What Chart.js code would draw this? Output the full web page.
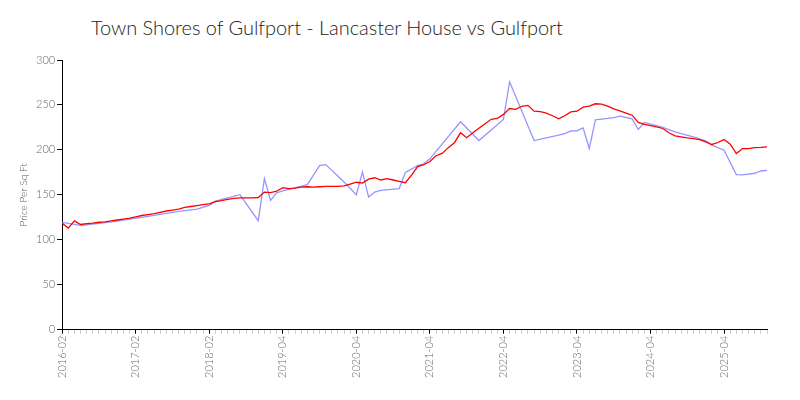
<!DOCTYPE html>
<html>
<head>
<meta charset="utf-8">
<script src="https://cdn.jsdelivr.net/npm/chart.js@4/dist/chart.umd.min.js"></script>
<style>
  html, body { margin: 0; padding: 0; background: #fff; }
  #wrap { position: relative; width: 800px; height: 400px; }
  #title { position: absolute; left: 91px; top: 15px; font-family: Lato, "Open Sans", sans-serif; font-weight: 300; font-size: 20px; color: #222; white-space: nowrap; letter-spacing: -0.05px; }
  canvas { position: absolute; left: 0; top: 0; }
</style>
</head>
<body>
<div id="wrap">
  <div id="title">Town Shores of Gulfport - Lancaster House vs Gulfport</div>
  <canvas id="c" width="800" height="400"></canvas>
</div>
<script>
const titleText = "Town Shores of Gulfport - Lancaster House vs Gulfport";
const yAxisTitle = "Price Per Sq Ft";

const months = [
  "2016-02","2016-03","2016-04","2016-05","2016-06","2016-07","2016-08","2016-09","2016-10","2016-11","2016-12","2017-01",
  "2017-02","2017-03","2017-04","2017-05","2017-06","2017-07","2017-08","2017-09","2017-10","2017-11","2017-12","2018-01",
  "2018-02","2018-03","2018-04","2018-05","2018-06","2018-07","2018-08","2018-11","2018-12","2019-01","2019-02","2019-03",
  "2019-04","2019-05","2019-06","2019-07","2019-08","2019-09","2019-10","2019-11","2019-12","2020-01","2020-02","2020-03",
  "2020-04","2020-05","2020-06","2020-07","2020-08","2020-09","2020-10","2020-11","2020-12","2021-01","2021-02","2021-03",
  "2021-04","2021-05","2021-06","2021-07","2021-08","2021-09","2021-10","2021-11","2021-12","2022-01","2022-02","2022-03",
  "2022-04","2022-05","2022-06","2022-07","2022-08","2022-09","2022-10","2022-11","2022-12","2023-01","2023-02","2023-03",
  "2023-04","2023-05","2023-06","2023-07","2023-08","2023-09","2023-10","2023-11","2023-12","2024-01","2024-02","2024-03",
  "2024-04","2024-05","2024-06","2024-07","2024-08","2024-09","2024-10","2024-11","2024-12","2025-01","2025-02","2025-03",
  "2025-04","2025-05","2025-06","2025-07","2025-08","2025-09","2025-10","2025-11"
];

// Lancaster House (red)
const lancaster = [
  118.5,113,121,117,118,118.5,119.5,120,121,122,123,124,
  125.5,127,128,129,130.5,132,133,134,136,137,138,139,
  140,142.5,143.5,145,146,146.5,146.5,146.5,147,153,152.5,154,
  158,157,157.5,158.5,159,158.5,159,159.5,159.5,159.5,160,162,
  164,163,167.5,169,166.5,168,166.5,165,163.5,172,181.5,183.5,
  187,193.5,196,202.5,208,219,213.5,219,224,229,234,235,
  239.5,246,245,248.5,249.5,243,242.5,241,238,234.5,238,242.3,
  243,247.5,248.7,251.3,251,248.7,245.7,243.4,241,238.6,230.5,228.3,
  227,225.6,223.8,219,215.6,214.5,213.4,212.5,211.5,208.9,206,208.2,
  211.5,206.3,195.9,201.5,201.5,202.6,202.8,203.3
];

// Gulfport (blue) - null where the reference line is a straight span
const gulfport = [
  119.3,null,null,116,116.7,null,null,null,null,120.8,null,null,
  null,null,126,null,null,null,null,131.5,null,null,134,null,
  138.3,143,null,null,null,150.2,null,null,121.2,168,143.9,152.2,
  154.5,null,null,null,161.3,null,182.5,183.6,null,null,164.3,null,
  150.2,175.4,147.5,153.1,155,null,null,157,175,null,182.5,184.5,
  190,null,null,null,null,231.2,null,null,210.4,null,null,null,
  233.9,275.8,null,null,null,210.4,null,213.4,null,216.5,218,221,
  221.2,224.5,201.5,233.5,null,235,236,237.5,null,234.5,222.7,230.5,
  null,null,225,null,220,218,null,214.5,null,210,205.2,null,
  199.6,null,172.5,172.1,null,174,176.5,177.3
];

const yTicks = [0, 50, 100, 150, 200, 250, 300];

new Chart(document.getElementById('c'), {
  type: 'line',
  data: {
    labels: months,
    datasets: [
      { label: 'Lancaster House', data: lancaster, borderColor: '#ff0000', borderWidth: 1.3,
        pointRadius: 0, tension: 0, fill: false, order: 0 },
      { label: 'Gulfport', data: gulfport, borderColor: 'rgba(130,130,255,0.85)', borderWidth: 1.3,
        pointRadius: 0, tension: 0, fill: false, spanGaps: true, order: 1 }
    ]
  },
  options: {
    responsive: false,
    animation: false,
    layout: { padding: { top: 60, left: 8, right: 33, bottom: 20 } },
    plugins: { legend: { display: false }, title: { display: false }, tooltip: { enabled: false } },
    scales: {
      x: {
        type: 'category',
        offset: false,
        border: { display: true, color: '#000', width: 1 },
        grid: {
          drawOnChartArea: false, drawTicks: true, tickLength: 4,
          color: (ctx) => (ctx.index % 12 === 0 ? '#000' : '#ccc')
        },
        ticks: {
          autoSkip: false, minRotation: 90, maxRotation: 90, padding: 2,
          color: '#666', font: { family: 'Lato', size: 11, weight: 300 },
          callback: function (v, i) { return i % 12 === 0 ? months[i] : ''; }
        }
      },
      y: {
        min: 0, max: 300,
        border: { display: true, color: '#000', width: 1 },
        grid: { drawOnChartArea: false, drawTicks: true, tickLength: 5, color: '#000' },
        afterBuildTicks: (axis) => { axis.ticks = yTicks.map(v => ({ value: v })); },
        ticks: { color: '#666', padding: 2, font: { family: 'Lato', size: 11, weight: 300 } },
        title: { display: true, text: yAxisTitle, color: '#555', padding: { top: 10, bottom: 4 }, font: { family: 'Lato', size: 10, weight: 300 } }
      }
    }
  }
});
</script>
</body>
</html>
